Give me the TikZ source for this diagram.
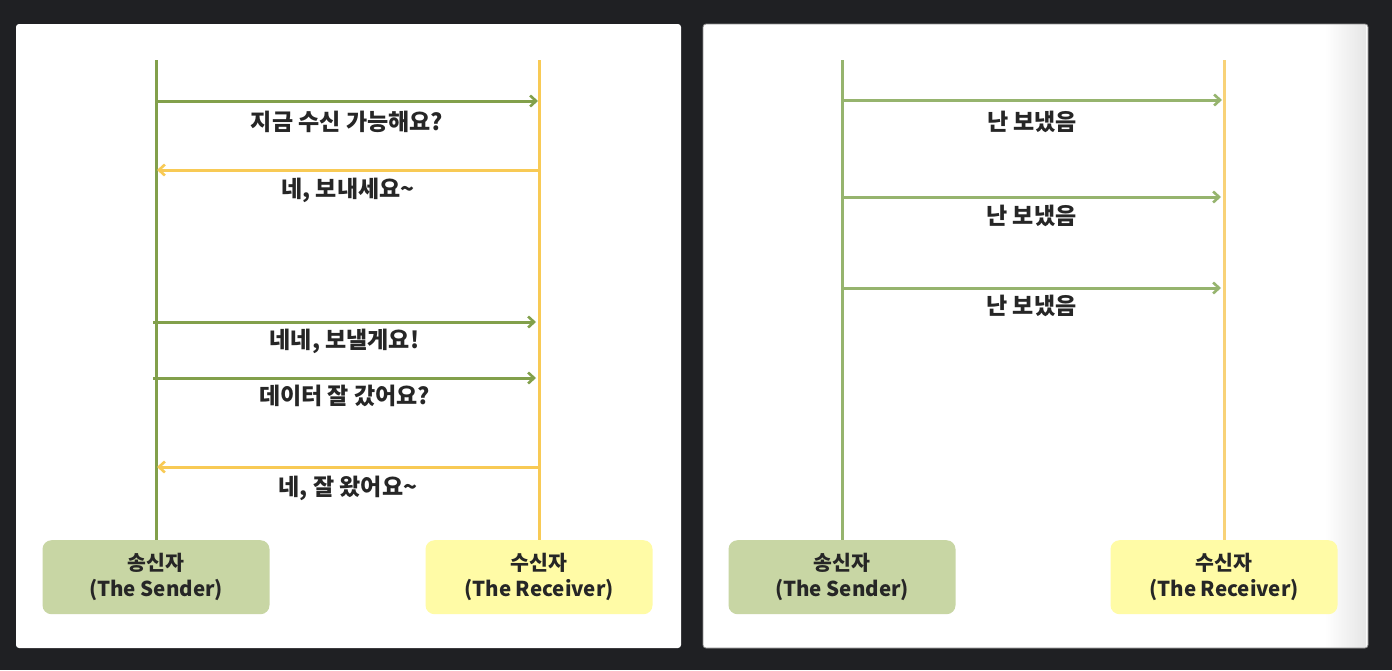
\documentclass[tikz,border=0pt]{standalone}
\usepackage{fontspec}
\setmainfont{Noto Sans CJK KR}
\usetikzlibrary{arrows.meta}
\definecolor{darkbg}{RGB}{31,32,35}
\definecolor{sgreen}{RGB}{130,160,75}
\definecolor{ryellow}{RGB}{248,202,85}
\definecolor{sgreenB}{RGB}{150,180,110}
\definecolor{ryellowB}{RGB}{248,210,120}
\definecolor{sfill}{RGB}{200,214,164}
\definecolor{rfill}{RGB}{255,251,166}
\tikzset{
  panel/.style={fill=white, rounded corners=3pt},
  msg/.style={line width=3pt, -{Straight Barb[length=6pt,width=11pt,line width=2.6pt]}},
  life/.style={line width=3pt},
  lbl/.style={font=\fontsize{23}{26}\selectfont\bfseries, inner sep=0pt, text=black!85},
  actor/.style={rounded corners=9pt, minimum width=227pt, minimum height=74pt,
    align=center, inner sep=0pt, font=\fontsize{20.5}{26}\selectfont\bfseries, text=black!85}
}
\begin{document}
\begin{tikzpicture}[x=1pt,y=-1pt]
\fill[darkbg] (0,0) rectangle (1392,670);
\useasboundingbox (0,0) rectangle (1392,670);
% panels
\fill[panel] (16,24) rectangle (681,648);
\fill[panel] (703,24) rectangle (1368,648);
\shade[left color=white, right color=black!10] (1325,24.5) rectangle (1366,647.5);
\draw[black!45, line width=0.8pt, rounded corners=3pt] (703,24) rectangle (1368,648);

% ---------- left panel ----------
\node[actor, fill=sfill, anchor=north] (S1) at (156,540) {송신자\\(The Sender)};
\node[actor, fill=rfill, anchor=north] (R1) at (539,540) {수신자\\(The Receiver)};
\coordinate (S1top) at (156,60);
\coordinate (R1top) at (539,60);
\draw[life, sgreen] (S1top) -- (S1.north);
\draw[life, ryellow] (R1top) -- (R1.north);

\coordinate (a1s) at (156,101); \coordinate (a1r) at (538,101);
\coordinate (a2s) at (157,170); \coordinate (a2r) at (539,170);
\coordinate (a3s) at (153,322); \coordinate (a3r) at (536,322);
\coordinate (a4s) at (153,378); \coordinate (a4r) at (536,378);
\coordinate (a5s) at (157,467); \coordinate (a5r) at (539,467);

\draw[msg, sgreen] (a1s) -- node[lbl, yshift=-21pt] (l1) {지금 수신 가능해요?} (a1r);
\draw[msg, ryellow] (a2r) -- node[lbl, yshift=-20pt] (l2) {네, 보내세요\textasciitilde} (a2s);
\draw[msg, sgreen] (a3s) -- node[lbl, yshift=-19pt] (l3) {네네, 보낼게요!} (a3r);
\draw[msg, sgreen] (a4s) -- node[lbl, yshift=-18pt] (l4) {데이터 잘 갔어요?} (a4r);
\draw[msg, ryellow] (a5r) -- node[lbl, yshift=-21pt] (l5) {네, 잘 왔어요\textasciitilde} (a5s);

% ---------- right panel ----------
\node[actor, fill=sfill, anchor=north] (S2) at (842,540) {송신자\\(The Sender)};
\node[actor, fill=rfill, anchor=north] (R2) at (1224,540) {수신자\\(The Receiver)};
\coordinate (S2top) at (842,60);
\coordinate (R2top) at (1224,60);
\draw[life, sgreenB] (S2top) -- (S2.north);
\draw[life, ryellowB] (R2top) -- (R2.north);

\coordinate (b1s) at (842,100); \coordinate (b1r) at (1222,100);
\coordinate (b2s) at (842,197); \coordinate (b2r) at (1221,197);
\coordinate (b3s) at (842,288); \coordinate (b3r) at (1221,288);
\draw[msg, sgreenB] (b1s) -- node[lbl, yshift=-22pt] (m1) {난 보냈음} (b1r);
\draw[msg, sgreenB] (b2s) -- node[lbl, yshift=-19pt] (m2) {난 보냈음} (b2r);
\draw[msg, sgreenB] (b3s) -- node[lbl, yshift=-18pt] (m3) {난 보냈음} (b3r);
\end{tikzpicture}
\end{document}
